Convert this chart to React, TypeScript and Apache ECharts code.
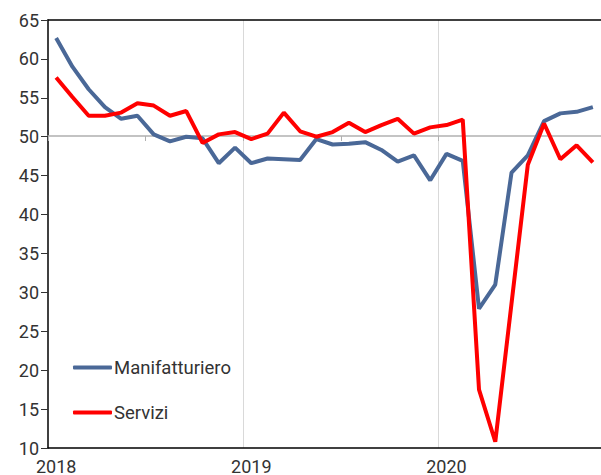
import React, { useEffect, useRef } from "react";
import * as echarts from "echarts";

const months: string[] = [];
for (let y = 2018; y <= 2020; y++) {
  for (let m = 1; m <= 12; m++) {
    if (y === 2020 && m > 10) break;
    months.push(`${y}-${String(m).padStart(2, "0")}`);
  }
}

const manifatturiero = [
  62.7, 59.0, 56.1, 53.8, 52.3, 52.7, 50.3, 49.4, 50.0, 49.8, 46.6, 48.6,
  46.6, 47.2, 47.1, 47.0, 49.7, 49.0, 49.1, 49.3, 48.3, 46.8, 47.6, 44.4,
  47.8, 46.9, 27.9, 31.0, 45.4, 47.6, 52.0, 53.0, 53.2, 53.8,
];

const servizi = [
  57.6, 55.1, 52.7, 52.7, 53.1, 54.3, 54.0, 52.7, 53.3, 49.2, 50.3, 50.6,
  49.7, 50.4, 53.1, 50.7, 50.0, 50.6, 51.8, 50.6, 51.5, 52.3, 50.4, 51.2,
  51.5, 52.2, 17.5, 10.8, 28.6, 46.4, 51.7, 47.1, 48.9, 46.7,
];

const Y_MIN = 10;
const Y_MAX = 65;
const Y_STEP = 5;
const REF_LINE = 50;

export default function App() {
  const ref = useRef<HTMLDivElement>(null);

  useEffect(() => {
    if (!ref.current) return;
    const chart = echarts.init(ref.current, null, { renderer: "svg" });
    const gridTop = 20;
    const gridBottom = 26;
    const gridHeight = 475 - gridTop - gridBottom;
    const refOffset = -((REF_LINE - Y_MIN) / (Y_MAX - Y_MIN)) * gridHeight;
    const font = "Roboto";
    chart.setOption({
      animation: false,
      backgroundColor: "#ffffff",
      textStyle: { fontFamily: font },
      grid: { left: 48, right: 0, top: gridTop, bottom: gridBottom },
      legend: {
        orient: "vertical",
        left: 73,
        top: 358,
        padding: 0,
        itemWidth: 39,
        itemHeight: 4,
        itemGap: 26,
        icon: "roundRect",
        textStyle: { fontFamily: font, fontSize: 18.5, color: "#333333", padding: [0, 0, 0, -3] },
        data: ["Manifatturiero", "Servizi"],
      },
      xAxis: [
        {
          type: "category",
          data: months,
          boundaryGap: true,
          position: "bottom",
          axisLine: { show: true, lineStyle: { color: "#000000", width: 1.5 } },
          axisTick: { show: false },
          axisLabel: {
            interval: (i: number) => i % 12 === 0,
            formatter: (v: string) => v.slice(0, 4),
            fontFamily: font,
            fontSize: 18,
            color: "#333333",
            margin: 9,
          },
          splitLine: {
            show: true,
            interval: (i: number) => i % 12 === 0 && i > 0,
            lineStyle: { color: "#d9d9d9", width: 1 },
          },
        },
        {
          type: "category",
          data: months,
          boundaryGap: true,
          position: "bottom",
          offset: refOffset,
          axisLine: { show: true, lineStyle: { color: "#b0b0b0", width: 1.5 } },
          axisTick: { show: true, interval: 5, length: 5, lineStyle: { color: "#b0b0b0" } },
          axisLabel: { show: false },
          splitLine: { show: false },
        },
        {
          type: "category",
          data: months,
          boundaryGap: true,
          position: "top",
          axisLine: { show: true, lineStyle: { color: "#000000", width: 1.5 } },
          axisTick: { show: false },
          axisLabel: { show: false },
          splitLine: { show: false },
        },
      ],
      yAxis: {
        type: "value",
        min: Y_MIN,
        max: Y_MAX,
        interval: Y_STEP,
        axisLine: { show: true, lineStyle: { color: "#000000", width: 1.5 } },
        axisTick: { show: true, length: 7, lineStyle: { color: "#333333" } },
        axisLabel: { fontFamily: font, fontSize: 18, color: "#333333", margin: 9 },
        splitLine: { show: false },
      },
      series: [
        {
          name: "Manifatturiero",
          type: "line",
          data: manifatturiero,
          showSymbol: false,
          symbol: "none",
          lineStyle: { color: "#4a6897", width: 4 },
          itemStyle: { color: "#4a6897" },
          z: 3,
        },
        {
          name: "Servizi",
          type: "line",
          data: servizi,
          showSymbol: false,
          symbol: "none",
          lineStyle: { color: "#ff0000", width: 4 },
          itemStyle: { color: "#ff0000" },
          z: 4,
        },
      ],
    });
    return () => chart.dispose();
  }, []);

  return (
    <div
      ref={ref}
      style={{ position: "fixed", left: 0, top: 0, width: 601, height: 475 }}
    />
  );
}
